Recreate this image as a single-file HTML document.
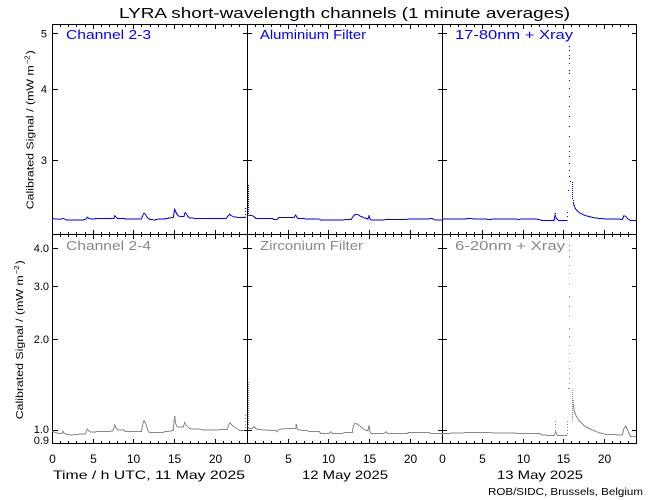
<!DOCTYPE html>
<html><head><meta charset="utf-8"><style>
html,body{margin:0;padding:0;background:#fff;}
svg{display:block;}
text{font-family:"Liberation Sans",sans-serif;}
</style></head><body>
<svg width="650" height="500" viewBox="0 0 650 500" xmlns="http://www.w3.org/2000/svg">
<rect width="650" height="500" fill="#fff"/>
<!-- title -->
<text x="119" y="18" font-size="15" textLength="451" lengthAdjust="spacingAndGlyphs" fill="#000">LYRA short-wavelength channels (1 minute averages)</text>

<!-- frames -->
<g stroke="#000" stroke-width="1" fill="none" shape-rendering="crispEdges">
<path d="M52.5 24V444M247.5 24V444M442.5 24V444M636.5 24V444M52 24.5H637M52 234.5H637M52 443.5H637"/>
<!-- x ticks -->
<path d="M60.5 25v2M68.5 25v2M76.5 25v2M85.5 25v2M93.5 25v4M101.5 25v2M109.5 25v2M117.5 25v2M125.5 25v2M133.5 25v4M141.5 25v2M150.5 25v2M158.5 25v2M166.5 25v2M174.5 25v4M182.5 25v2M190.5 25v2M198.5 25v2M206.5 25v2M215.5 25v4M223.5 25v2M231.5 25v2M239.5 25v2
M255.5 25v2M263.5 25v2M271.5 25v2M280.5 25v2M288.5 25v4M296.5 25v2M304.5 25v2M312.5 25v2M320.5 25v2M328.5 25v4M336.5 25v2M345.5 25v2M353.5 25v2M361.5 25v2M369.5 25v4M377.5 25v2M385.5 25v2M393.5 25v2M401.5 25v2M410.5 25v4M418.5 25v2M426.5 25v2M434.5 25v2
M450.5 25v2M458.5 25v2M466.5 25v2M474.5 25v2M482.5 25v4M491.5 25v2M499.5 25v2M507.5 25v2M515.5 25v2M523.5 25v4M531.5 25v2M539.5 25v2M547.5 25v2M555.5 25v2M563.5 25v4M571.5 25v2M579.5 25v2M588.5 25v2M596.5 25v2M604.5 25v4M612.5 25v2M620.5 25v2M628.5 25v2"/>
<path d="M60.5 232V237M68.5 232V237M76.5 232V237M85.5 232V237M93.5 230V239M101.5 232V237M109.5 232V237M117.5 232V237M125.5 232V237M133.5 230V239M141.5 232V237M150.5 232V237M158.5 232V237M166.5 232V237M174.5 230V239M182.5 232V237M190.5 232V237M198.5 232V237M206.5 232V237M215.5 230V239M223.5 232V237M231.5 232V237M239.5 232V237
M255.5 232V237M263.5 232V237M271.5 232V237M280.5 232V237M288.5 230V239M296.5 232V237M304.5 232V237M312.5 232V237M320.5 232V237M328.5 230V239M336.5 232V237M345.5 232V237M353.5 232V237M361.5 232V237M369.5 230V239M377.5 232V237M385.5 232V237M393.5 232V237M401.5 232V237M410.5 230V239M418.5 232V237M426.5 232V237M434.5 232V237
M450.5 232V237M458.5 232V237M466.5 232V237M474.5 232V237M482.5 230V239M491.5 232V237M499.5 232V237M507.5 232V237M515.5 232V237M523.5 230V239M531.5 232V237M539.5 232V237M547.5 232V237M555.5 232V237M563.5 230V239M571.5 232V237M579.5 232V237M588.5 232V237M596.5 232V237M604.5 230V239M612.5 232V237M620.5 232V237M628.5 232V237"/>
<path d="M60.5 441v2M68.5 441v2M76.5 441v2M85.5 441v2M93.5 439v4M101.5 441v2M109.5 441v2M117.5 441v2M125.5 441v2M133.5 439v4M141.5 441v2M150.5 441v2M158.5 441v2M166.5 441v2M174.5 439v4M182.5 441v2M190.5 441v2M198.5 441v2M206.5 441v2M215.5 439v4M223.5 441v2M231.5 441v2M239.5 441v2
M255.5 441v2M263.5 441v2M271.5 441v2M280.5 441v2M288.5 439v4M296.5 441v2M304.5 441v2M312.5 441v2M320.5 441v2M328.5 439v4M336.5 441v2M345.5 441v2M353.5 441v2M361.5 441v2M369.5 439v4M377.5 441v2M385.5 441v2M393.5 441v2M401.5 441v2M410.5 439v4M418.5 441v2M426.5 441v2M434.5 441v2
M450.5 441v2M458.5 441v2M466.5 441v2M474.5 441v2M482.5 439v4M491.5 441v2M499.5 441v2M507.5 441v2M515.5 441v2M523.5 439v4M531.5 441v2M539.5 441v2M547.5 441v2M555.5 441v2M563.5 439v4M571.5 441v2M579.5 441v2M588.5 441v2M596.5 441v2M604.5 439v4M612.5 441v2M620.5 441v2M628.5 441v2"/>
<!-- y ticks -->
<path d="M53 33.5H58M243 33.5H252M438 33.5H447M632 33.5H636
M53 89.5H58M243 89.5H252M438 89.5H447M632 89.5H636
M53 160.5H58M243 160.5H252M438 160.5H447M632 160.5H636
M53 248.5H58M243 248.5H252M438 248.5H447M632 248.5H636
M53 286.5H58M243 286.5H252M438 286.5H447M632 286.5H636
M53 339.5H58M243 339.5H252M438 339.5H447M632 339.5H636
M53 430.5H58M243 430.5H252M438 430.5H447M632 430.5H636"/>
</g>

<!-- y tick labels -->
<g font-size="11" fill="#000" text-anchor="end">
<text x="47" y="37.5">5</text>
<text x="47" y="93">4</text>
<text x="47" y="164">3</text>
<text x="49" y="252">4.0</text>
<text x="49" y="290">3.0</text>
<text x="49" y="343">2.0</text>
<text x="49" y="433">1.0</text>
<text x="49" y="444">0.9</text>
</g>

<!-- y axis titles -->
<g fill="#000">
<g transform="translate(33.5,209.3) rotate(-90)">
<text x="0" y="0" font-size="10" textLength="144" lengthAdjust="spacingAndGlyphs">Calibrated Signal / (mW m</text>
<text x="145" y="-4" font-size="7" textLength="9" lengthAdjust="spacingAndGlyphs">−2</text>
<text x="155" y="0" font-size="10" textLength="4" lengthAdjust="spacingAndGlyphs">)</text>
</g>
<g transform="translate(23,419.3) rotate(-90)">
<text x="0" y="0" font-size="10" textLength="144" lengthAdjust="spacingAndGlyphs">Calibrated Signal / (mW m</text>
<text x="145" y="-4" font-size="7" textLength="9" lengthAdjust="spacingAndGlyphs">−2</text>
<text x="155" y="0" font-size="10" textLength="4" lengthAdjust="spacingAndGlyphs">)</text>
</g>
</g>

<!-- x tick labels -->
<g font-size="12" fill="#000" text-anchor="middle">
<text x="52.5" y="463">0</text><text x="93.5" y="463">5</text><text x="133.5" y="463">10</text><text x="174.5" y="463">15</text><text x="215.5" y="463">20</text>
<text x="247.5" y="463">0</text><text x="288.5" y="463">5</text><text x="328.5" y="463">10</text><text x="369.5" y="463">15</text><text x="410.5" y="463">20</text>
<text x="442.5" y="463">0</text><text x="482.5" y="463">5</text><text x="523.5" y="463">10</text><text x="563.5" y="463">15</text><text x="604.5" y="463">20</text>
</g>
<g font-size="12" fill="#000">
<text x="53" y="479" textLength="192" lengthAdjust="spacingAndGlyphs">Time / h UTC, 11 May 2025</text>
<text x="302" y="479" textLength="86" lengthAdjust="spacingAndGlyphs">12 May 2025</text>
<text x="497" y="479" textLength="86" lengthAdjust="spacingAndGlyphs">13 May 2025</text>
<text x="488" y="495" font-size="10.5" textLength="155" lengthAdjust="spacingAndGlyphs">ROB/SIDC, Brussels, Belgium</text>
</g>

<!-- panel labels -->
<g font-size="12.5" fill="#0000ff">
<text x="66" y="39" textLength="85" lengthAdjust="spacingAndGlyphs">Channel 2-3</text>
<text x="260" y="39" textLength="106" lengthAdjust="spacingAndGlyphs">Aluminium Filter</text>
<text x="455" y="39" textLength="118" lengthAdjust="spacingAndGlyphs">17-80nm + Xray</text>
</g>
<g font-size="12.5" fill="#888888">
<text x="66" y="250" textLength="85" lengthAdjust="spacingAndGlyphs">Channel 2-4</text>
<text x="260" y="250" textLength="103" lengthAdjust="spacingAndGlyphs">Zirconium Filter</text>
<text x="455" y="250" textLength="110" lengthAdjust="spacingAndGlyphs">6-20nm + Xray</text>
</g>

<!-- top data (blue) -->
<g stroke="#0000ff" stroke-width="1" fill="none" shape-rendering="crispEdges">
<polyline points="52.7,218.3 54.7,219 59.7,219.3 61.3,219 63,218.3 64.7,219 66.3,220 83,220 86.3,219 87.3,217.3 88.7,218.3 91.3,219 94.7,219 96.3,218.3 114,218.3 114.7,215.7 115.7,217 117.3,218.3 124,218.3 125.3,219 141.3,219 143,215 144,213.3 145.3,214.3 146.7,216.7 148,218.3 149.7,219.3 154.7,220 156.3,219.3 163,219 168,218.3 171.3,217.7 173.3,217.3 174,213.3 174.7,209.3 175.7,211.7 177,214.3 178.7,216 180.7,216.7 184,216.7 184.7,213.3 185.3,212.7 186.7,214.3 188,216.7 189.7,218 194.7,218.3 226.3,218.3 228,216 229.7,214.3 231.3,215.7 233.3,216.7 239.7,217.7 244,217.7 244.7,216.7"/>
<polyline points="248.5,215 249,215.7 252.3,215.7 254,216.7 255.7,218.3 272.3,218.3 273.3,219.3 277.3,219.3 279,217.3 294,217.3 295.7,215 296.7,217 298,218.3 304,218.3 305.7,219 319,219 320.7,220 344,220 345.7,219.3 351.3,219.3 353.3,216 355,214.3 357.3,214.3 360.7,216.3 364,217.7 368,219 369,215.7 370,219 371.3,220 384,220 385.7,219.3 407.3,219.3 409,219 429,219 430.7,218.3 434,219.3 435.7,220 442,220"/>
<polyline points="442,219.3 449,219 465.7,219 467.3,218.3 475.7,219 489,219.3 505.7,219 519,219.3 525.7,219 539,219.3 542.3,220.7 554,220.7 555,215 556.3,218.3 558.3,220.3 567.3,220.3"/>
<polyline points="573.5,203 574,205 575,207.7 576.3,210 579,212.3 582.3,214.3 585.7,215.7 590.7,217 595.7,218 602.3,218.7 609,219 622.3,219.3 624,215.7 625.7,216.3 628,219 630.7,220.7 636,220.7"/>
<path d="M245 208.5h1M245 211.5h1M245 214.5h1M245 217.5h1M248 185.5h1M248 187.5h1M248 189.5h1M248 191.5h1M248 193.5h1M248 195.5h1M248 197.5h1M248 199.5h1M248 201.5h1M248 203.5h1M248 205.5h1M248 207.5h1M248 209.5h1M248 211.5h1M248 213.5h1
M569 46.5h1M569 50.5h1M569 55.5h1M569 58.5h1M569 63.5h1M569 70.5h1M569 73.5h1M569 80.5h1M569 88.5h1M569 96.5h1M569 106.5h1M569 116.5h1M569 126.5h1M569 136.5h1M569 146.5h1M569 151.5h1M569 156.5h1M569 163.5h1M569 170.5h1M569 176.5h1M570 181.5h1M568 190.5h1
M572 182.5h1M572 184.5h1M572 186.5h1M572 188.5h1M572 190.5h1M572 192.5h1M572 194.5h1M572 196.5h1M572 198.5h1M573 200.5h1M573 202.5h1M567 212.5h1M555 213.5h1M567 216.5h1"/>
</g>

<!-- bottom data (gray) -->
<g stroke="#888888" stroke-width="1" fill="none" shape-rendering="crispEdges">
<polyline points="52.7,430 53,431.7 54.7,432.3 58,433.3 62,433.3 63,431 64,433.3 66.3,434.3 71.3,435 78,434.3 85.3,434 87.3,429 89.7,431.7 94.7,432.3 96.3,431.7 108,431.7 113,430.7 114.7,425 116.3,428.3 118,430 124,430 125.3,431.7 141.3,431.7 143,423.3 144,420.7 145.3,422.7 146.7,426.7 148,430.7 149.7,432.7 163,432.7 164.7,431.7 171.3,431 173.3,430 174,421.7 174.7,416 175.7,423.3 177,426.7 183,427.3 184,425 184.7,422.3 186,425 188,427.3 189.7,428.7 201.3,429.3 203,430 218,430 219.7,429.3 227.3,429.3 228.7,425 230,422.7 232,425 234.7,427.3 238,429.3 239.7,430.7 244.7,430.7"/>
<polyline points="248.5,427 249,428.3 252.3,428.3 254,426.7 255.7,428.3 257.3,429.3 264,430 275.7,430.7 277.3,431.7 279,429.3 284,429 285.7,428.3 295.7,428.3 296.3,424.3 297.3,429.3 299,430 307.3,430.7 309,431.7 319,431.7 320.7,433.3 329,433.3 330.7,431.7 332.3,433.3 342.3,433.3 344,432.7 352.3,432.7 353.3,426 355,423.3 357.3,424 360.7,426.7 364,429.3 368,431 369,425 370,431.7 371.3,433.3 384,433.3 385.7,431.7 387.3,433.3 407.3,433.3 409,432.3 429,432.3 430.7,433.3 442,433.3"/>
<polyline points="442,433.3 449,433.3 465.7,432.7 469,432.3 475.7,432.7 489,432.7 519,433.3 539,433.3 542.3,435 554,435.7 555.7,431.7 557.3,435.7 567.3,435.7"/>
<polyline points="573.5,405 574,410 575.7,415 579,420.7 582.3,424 585.7,426.7 592.3,430 599,432.7 605.7,434.3 622.3,435 624,428.3 625.7,426 627.3,429.3 629,433.3 630.7,436.7 636,436.7"/>
<path d="M245 415.5h1M245 418.5h1M245 421.5h1M245 424.5h1M245 427.5h1
M248 382.5h1M248 384.5h1M248 386.5h1M248 388.5h1M248 390.5h1M248 392.5h1M248 394.5h1M248 396.5h1M248 398.5h1M248 400.5h1M248 402.5h1M248 404.5h1M248 406.5h1M248 408.5h1M248 410.5h1M248 412.5h1M248 414.5h1M248 416.5h1M248 418.5h1M248 420.5h1M248 422.5h1M248 424.5h1
M569 245.5h1M569 250.5h1M569 256.5h1M569 265.5h1M569 273.5h1M569 283.5h1M569 296.5h1M569 306.5h1M569 316.5h1M569 328.5h1M569 336.5h1M569 345.5h1M569 353.5h1M569 361.5h1M569 368.5h1M569 373.5h1M569 378.5h1M569 383.5h1M569 388.5h1M568 388.5h1
M572 390.5h1M572 392.5h1M572 394.5h1M572 396.5h1M572 398.5h1M572 400.5h1M572 402.5h1M572 404.5h1M572 406.5h1M572 408.5h1M572 410.5h1M572 412.5h1M572 414.5h1M572 416.5h1M572 418.5h1M572 420.5h1
M573 400.5h1M573 402.5h1M573 404.5h1
M567 421.5h1M567 424.5h1M567 427.5h1M567 430.5h1M567 433.5h1
M555 421.5h1M555 424.5h1M555 427.5h1M555 430.5h1"/>
</g>
</svg>
</body></html>
